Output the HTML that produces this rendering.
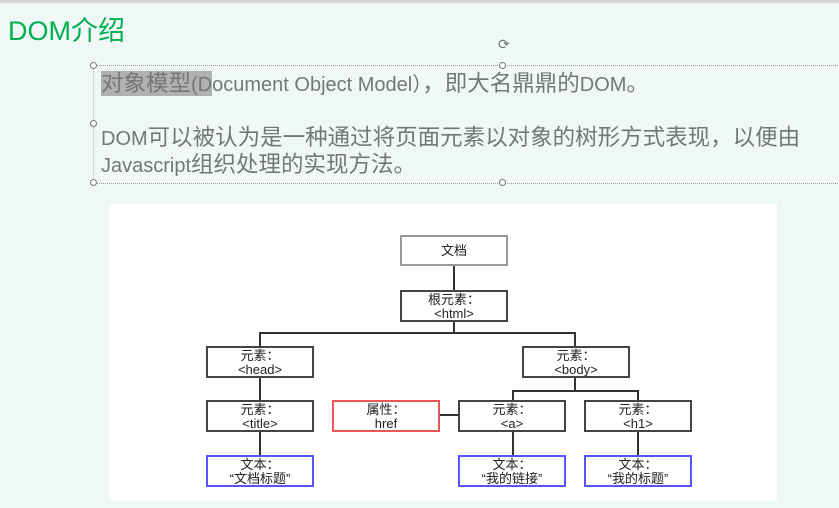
<!DOCTYPE html>
<html><head><meta charset="utf-8"><style>
html,body{margin:0;padding:0}
body{width:839px;height:508px;background:#f0f8f7;position:relative;overflow:hidden;font-family:"Liberation Sans","Noto Sans CJK SC",sans-serif}
.top{position:absolute;left:0;top:0;width:839px;height:3px;background:#d4d4d4}
.title{position:absolute;left:8px;top:13px;font-size:27px;color:#00b050;line-height:36px}
.txt{position:absolute;left:101px;font-size:22.5px;color:#767676;line-height:27px;white-space:nowrap}
.e{font-size:20px}
.hl{background:#b0b2b0}
.box{position:absolute;left:93px;top:65px;width:760px;height:117px;border-top:1px dotted #999;border-bottom:1px dotted #999;border-left:1px dotted #bbb}
.h{position:absolute;width:5px;height:5px;border:1px solid #777;border-radius:50%;background:#fff}
.panel{position:absolute;left:110px;top:204px;width:667px;height:297px;background:#fff}
.n{position:absolute;box-sizing:border-box;border:2px solid #444;background:#fff;font-size:13px;line-height:14px;text-align:center;color:#222;padding-top:1px}
.l{position:absolute;background:#333}
</style></head><body>
<div class="top"></div>
<div class="title">DOM介绍</div>
<div class="box"></div>
<div class="h" style="left:90px;top:62px"></div>
<div class="h" style="left:499px;top:62px"></div>
<div class="h" style="left:90px;top:120px"></div>
<div class="h" style="left:90px;top:179px"></div>
<div class="h" style="left:499px;top:179px"></div>
<div style="position:absolute;left:498px;top:36px;font-size:14px;color:#777">⟳</div>
<div class="txt" style="top:70px"><span class="hl">对象模型<span class="e">(D</span></span><span class="e">ocument Object Model）</span>，即大名鼎鼎的<span class="e">DOM</span>。</div>
<div class="txt" style="top:124px"><span class="e">DOM</span>可以被认为是一种通过将页面元素以对象的树形方式表现，以便由</div>
<div class="txt" style="top:151px"><span class="e">Javascript</span>组织处理的实现方法。</div>
<div class="panel"></div>
<div class="l" style="left:453px;top:265px;width:2px;height:25px"></div>
<div class="l" style="left:453px;top:321px;width:2px;height:12px"></div>
<div class="l" style="left:259px;top:332px;width:316px;height:2px"></div>
<div class="l" style="left:259px;top:332px;width:2px;height:14px"></div>
<div class="l" style="left:574px;top:332px;width:2px;height:14px"></div>
<div class="l" style="left:259px;top:377px;width:2px;height:23px"></div>
<div class="l" style="left:259px;top:431px;width:2px;height:25px"></div>
<div class="l" style="left:574px;top:377px;width:2px;height:14px"></div>
<div class="l" style="left:512px;top:390px;width:126px;height:2px"></div>
<div class="l" style="left:512px;top:390px;width:2px;height:10px"></div>
<div class="l" style="left:637px;top:390px;width:2px;height:10px"></div>
<div class="l" style="left:440px;top:414px;width:18px;height:2px"></div>
<div class="l" style="left:512px;top:431px;width:2px;height:25px"></div>
<div class="l" style="left:637px;top:431px;width:2px;height:25px"></div>
<div class="n" style="left:400px;top:235px;width:108px;height:31px;border-color:#999;padding-top:7px">文档</div>
<div class="n" style="left:400px;top:290px;width:108px;height:32px">根元素：<br>&lt;html&gt;</div>
<div class="n" style="left:206px;top:346px;width:108px;height:32px">元素：<br>&lt;head&gt;</div>
<div class="n" style="left:522px;top:346px;width:108px;height:32px">元素：<br>&lt;body&gt;</div>
<div class="n" style="left:206px;top:400px;width:108px;height:32px">元素：<br>&lt;title&gt;</div>
<div class="n" style="left:332px;top:400px;width:108px;height:32px;border-color:#e55">属性：<br>href</div>
<div class="n" style="left:458px;top:400px;width:108px;height:32px">元素：<br>&lt;a&gt;</div>
<div class="n" style="left:584px;top:400px;width:108px;height:32px">元素：<br>&lt;h1&gt;</div>
<div class="n" style="left:206px;top:455px;width:108px;height:32px;border-color:#55f">文本：<br>“文档标题”</div>
<div class="n" style="left:458px;top:455px;width:108px;height:32px;border-color:#55f">文本：<br>“我的链接”</div>
<div class="n" style="left:584px;top:455px;width:108px;height:32px;border-color:#55f">文本：<br>“我的标题”</div>
</body></html>
